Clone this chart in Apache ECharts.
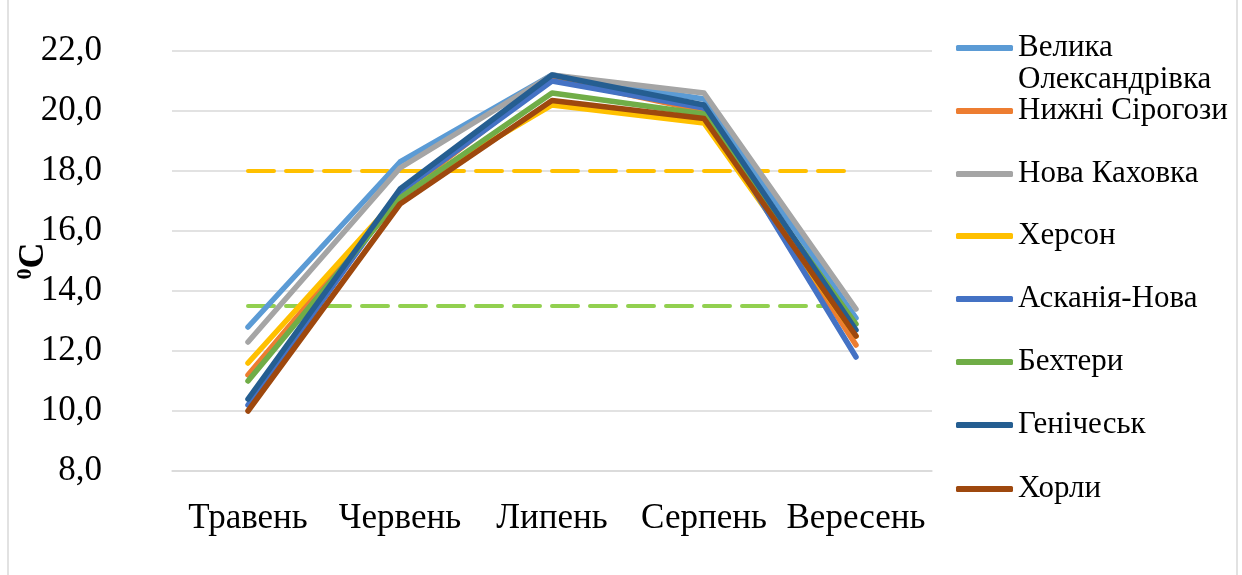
<!DOCTYPE html>
<html>
<head>
<meta charset="utf-8">
<script src="https://cdn.jsdelivr.net/npm/echarts@6/dist/echarts.min.js"></script>
<style>
  html, body { margin: 0; padding: 0; background: #fff; }
  #chart { width: 1242px; height: 575px; }
</style>
</head>
<body>
<div id="chart"></div>
<script>
// months
const months = ['Травень', 'Червень', 'Липень', 'Серпень', 'Вересень'];

// stations, mean temperature, °C
const stations = ['Велика Олександрівка', 'Нижні Сірогози', 'Нова Каховка', 'Херсон', 'Асканія-Нова', 'Бехтери', 'Генічеськ', 'Хорли'];
const velyka    = [12.8, 18.3, 21.2, 20.4, 13.1];
const sirogozy  = [11.2, 17.2, 21.1, 20.0, 12.2];
const kakhovka  = [12.3, 18.1, 21.2, 20.6, 13.4];
const kherson   = [11.6, 17.2, 20.2, 19.6, 12.5];
const askania   = [10.2, 17.3, 21.0, 20.1, 11.8];
const bekhtery  = [11.0, 17.1, 20.6, 19.9, 12.9];
const henichesk = [10.4, 17.4, 21.2, 20.2, 12.7];
const khorly    = [10.0, 16.9, 20.35, 19.75, 12.5];

// threshold lines
const upperLevel = [18, 18, 18, 18, 18];
const lowerLevel = [13.5, 13.5, 13.5, 13.5, 13.5];

const colors = ['#5B9BD5', '#ED7D31', '#A5A5A5', '#FFC000', '#4472C4', '#70AD47', '#255E91', '#9E480E'];
const values = [velyka, sirogozy, kakhovka, kherson, askania, bekhtery, henichesk, khorly];

const font = '"Liberation Serif", "Times New Roman", serif';

var myChart = echarts.init(document.getElementById('chart'));

let series = [
  {
    name: 'level18', type: 'line', data: upperLevel, symbol: 'none', silent: true,
    lineStyle: { color: '#FFC000', width: 4, type: [26, 12], cap: 'round' }, z: 1
  },
  {
    name: 'level13', type: 'line', data: lowerLevel, symbol: 'none', silent: true,
    lineStyle: { color: '#92D050', width: 4, type: [26, 12], cap: 'round' }, z: 1
  }
];
stations.forEach((s, i) => {
  series.push({
    name: s,
    type: 'line',
    data: values[i],
    symbol: 'none',
    color: colors[i],
    lineStyle: { width: 5.5, cap: 'round', join: 'round' },
    z: 2 + i
  });
});

const centers = [48, 111, 174, 236, 299, 362, 425, 489];
const lh = 32;
let legends = stations.map((s, i) => ({
  data: [s],
  orient: 'vertical',
  left: 956,
  top: i === 0 ? centers[i] - 1.5 * lh : centers[i] - lh / 2,
  padding: 0,
  itemWidth: 57,
  itemHeight: 6,
  itemGap: 5,
  icon: 'roundRect',
  selectedMode: false,
  formatter: i === 0 ? ' \nВелика\nОлександрівка' : '{name}',
  textStyle: { fontFamily: font, fontSize: 31, color: '#000', lineHeight: lh }
}));

var option = {
  animation: false,
  backgroundColor: '#fff',
  graphic: [{
    type: 'rect',
    shape: { x: 8, y: -5, width: 1229, height: 590 },
    style: { fill: 'none', stroke: '#D9D9D9', lineWidth: 1.5 }
  }],
  legend: legends,
  grid: { left: 172, right: 310, top: 51, bottom: 104, outerBoundsMode: 'none', containLabel: false },
  xAxis: {
    type: 'category',
    data: months,
    boundaryGap: true,
    axisLine: { show: true, lineStyle: { color: '#D9D9D9', width: 1.5 } },
    axisTick: { show: false },
    axisLabel: { fontFamily: font, fontSize: 35, color: '#000', margin: 30, interval: 0, hideOverlap: false }
  },
  yAxis: {
    type: 'value',
    min: 8, max: 22, interval: 2,
    name: '{s|0}{c|C}',
    nameLocation: 'middle',
    nameGap: 118,
    nameRotate: 90,
    nameMoveOverlap: false,
    nameTextStyle: {
      rich: {
        s: { fontFamily: font, fontSize: 22, fontWeight: 'bold', color: '#000', verticalAlign: 'top', lineHeight: 40 },
        c: { fontFamily: font, fontSize: 36, fontWeight: 'bold', color: '#000', lineHeight: 40 }
      }
    },
    axisLine: { show: false },
    axisTick: { show: false },
    splitLine: { lineStyle: { color: '#D9D9D9', width: 1.5 } },
    axisLabel: {
      fontFamily: font, fontSize: 35, color: '#000', margin: 70,
      formatter: v => v.toFixed(1).replace('.', ',')
    }
  },
  series: series
};

option && myChart.setOption(option);
</script>
</body>
</html>
